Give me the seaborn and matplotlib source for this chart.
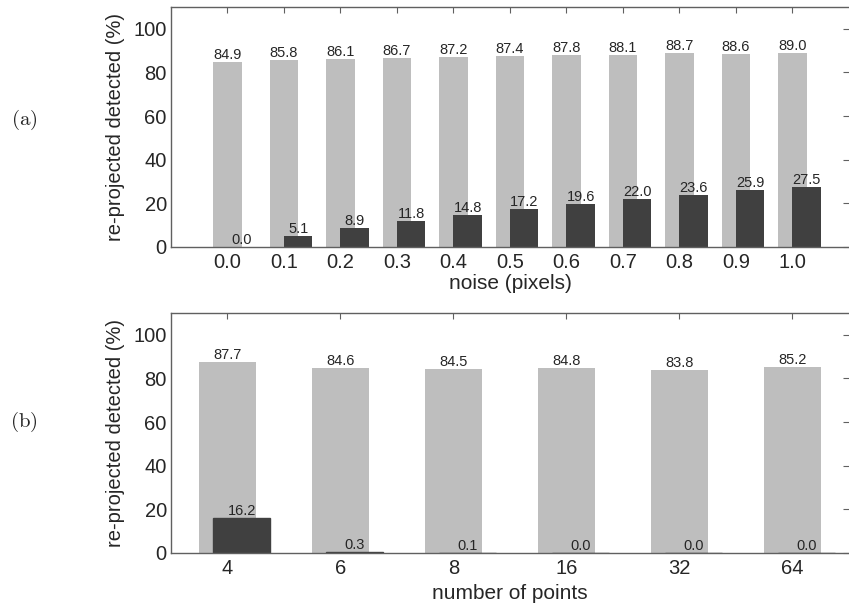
import numpy as np
import matplotlib
matplotlib.use('Agg')
import matplotlib.pyplot as plt
import seaborn as sns

# panel (a): noise
noise_labels = ['0.0', '0.1', '0.2', '0.3', '0.4', '0.5', '0.6', '0.7', '0.8', '0.9', '1.0']
noise_light = [84.9, 85.8, 86.1, 86.7, 87.2, 87.4, 87.8, 88.1, 88.7, 88.6, 89.0]
noise_dark = [0.0, 5.1, 8.9, 11.8, 14.8, 17.2, 19.6, 22.0, 23.6, 25.9, 27.5]

# panel (b): number of points
npts_labels = ['4', '6', '8', '16', '32', '64']
npts_light = [87.7, 84.6, 84.5, 84.8, 83.8, 85.2]
npts_dark = [16.2, 0.3, 0.1, 0.0, 0.0, 0.0]

LIGHT = '#bebebe'
DARK = '#404040'
SPINE = '#606060'

sns.set_style('white')
plt.rcParams['font.family'] = ['Liberation Sans', 'DejaVu Sans']
plt.rcParams['mathtext.fontset'] = 'cm'

fig = plt.figure(figsize=(8.49, 6.08), dpi=100)
ax_a = fig.add_axes([0.2014, 0.5938, 0.7986, 0.3947])
ax_b = fig.add_axes([0.2014, 0.0905, 0.7986, 0.3947])


def draw_panel(ax, labels, light, dark, shift, xlim, xlabel, dark_edge):
    pos = np.arange(len(labels))
    sns.barplot(x=pos, y=light, native_scale=True, width=0.5, color=LIGHT,
                saturation=1, errorbar=None, linewidth=0, ax=ax)
    sns.barplot(x=pos + shift, y=dark, native_scale=True, width=0.5, color=DARK,
                saturation=1, errorbar=None,
                linewidth=1 if dark_edge else 0, edgecolor=DARK, ax=ax)
    for c in ax.containers:
        ax.bar_label(c, fmt='%.1f', fontsize=10.5, padding=0)
    ax.set_xlim(*xlim)
    ax.set_ylim(0, 110)
    ax.set_xticks(pos, labels)
    ax.set_yticks([0, 20, 40, 60, 80, 100])
    ax.tick_params(axis='x', bottom=False, top=True, labelbottom=True, labeltop=False,
                   direction='in', length=4.5, color=SPINE, labelsize=14.5, pad=4)
    ax.tick_params(axis='y', left=False, right=True, labelleft=True, labelright=False,
                   direction='in', length=4.5, color=SPINE, labelsize=14.5, pad=3)
    for side in ['left', 'bottom', 'top']:
        ax.spines[side].set_color(SPINE)
        ax.spines[side].set_linewidth(1)
    ax.spines['right'].set_visible(False)
    ax.set_ylabel('re-projected detected (%)', fontsize=14.5)
    ax.yaxis.set_label_coords(-0.068, 0.5)
    ax.set_xlabel(xlabel, fontsize=15)


draw_panel(ax_a, noise_labels, noise_light, noise_dark, 0.25, (-1, 11),
           'noise (pixels)', False)
draw_panel(ax_b, npts_labels, npts_light, npts_dark, 0.125, (-0.5, 5.5),
           'number of points', True)
ax_a.xaxis.set_label_coords(0.5, -0.112)
ax_b.xaxis.set_label_coords(0.5, -0.128)

fig.text(24 / 849, 1 - 120 / 608, r'$\mathrm{(a)}$', fontsize=15, ha='center', va='center')
fig.text(24 / 849, 1 - 422 / 608, r'$\mathrm{(b)}$', fontsize=15, ha='center', va='center')

fig.savefig('out.png', dpi=100)
